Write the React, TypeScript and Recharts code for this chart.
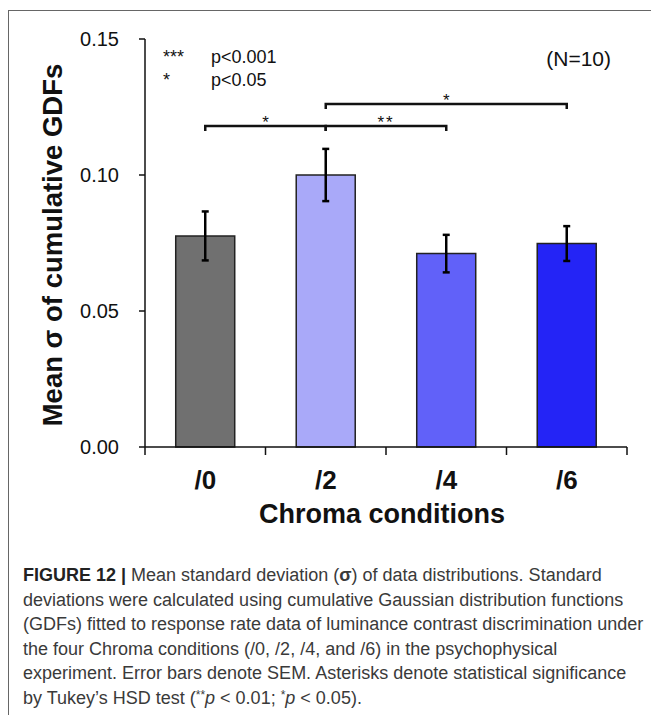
import React from "react";
import { BarChart, Bar, XAxis, YAxis, Cell, ErrorBar, ReferenceLine } from "recharts";

// Chroma conditions and mean sigma of cumulative GDFs (with SEM)
const conditions = ["/0", "/2", "/4", "/6"];
const meanSigma = [0.0776, 0.1, 0.0711, 0.0748];
const semValues = [0.009, 0.0096, 0.0069, 0.0064];
const barColors = ["#707070", "#a9a9f9", "#6161f9", "#2424f6"];
const yTicks = [0, 0.05, 0.1, 0.15];

// Tukey HSD significance brackets
const bracketFrom = ["/0", "/2", "/2"];
const bracketTo = ["/2", "/4", "/6"];
const bracketLevel = [0.118, 0.118, 0.1261];
const bracketMark = ["*", "**", "*"];

const data = conditions.map((name, i) => ({
  name,
  value: meanSigma[i],
  sem: semValues[i],
}));

const INK = "#111";
const FONT = '"Liberation Sans", Arial, sans-serif';

const ChromaTick = (props: any) => {
  const { x, y, payload, index } = props;
  const half = payload.offset || 0;
  const last = index === conditions.length - 1;
  return (
    <g>
      <line x1={x - half} x2={x - half} y1={y} y2={y + 8} stroke={INK} strokeWidth={1.5} />
      {last && <line x1={x + half} x2={x + half} y1={y} y2={y + 8} stroke={INK} strokeWidth={1.5} />}
      <text
        x={x}
        y={y + 42}
        textAnchor="middle"
        fontFamily={FONT}
        fontWeight="bold"
        fontSize={26}
        fill={INK}
      >
        {payload.value}
      </text>
    </g>
  );
};

const bracketShape = (mark: string) => (p: any) => {
  const { x1, y1, x2, y2 } = p;
  return (
    <g>
      <path
        d={`M${x1},${y1 + 5}V${y1}H${x2}V${y2 + 5}`}
        fill="none"
        stroke={INK}
        strokeWidth={2.5}
      />
      <text
        x={(x1 + x2) / 2}
        y={y1 + 2}
        textAnchor="middle"
        fontFamily={FONT}
        fontSize={17}
        letterSpacing={mark.length > 1 ? 2 : 0}
        fill={INK}
      >
        {mark}
      </text>
    </g>
  );
};

const sup = { fontSize: 12, position: "relative" as const, top: -5 };

export default function App() {
  return (
    <div
      style={{
        position: "relative",
        width: 659,
        height: 717,
        margin: "-8px 0 0 -8px",
        background: "#fff",
        overflow: "hidden",
        fontFamily: FONT,
      }}
    >
      <BarChart
        width={659}
        height={545}
        data={data}
        margin={{ top: 39, right: 32, bottom: 0, left: 0 }}
        barCategoryGap="25.5%"
      >
        <XAxis
          dataKey="name"
          height={98}
          axisLine={{ stroke: INK, strokeWidth: 1.5 }}
          tickLine={false}
          tickSize={0}
          tickMargin={0}
          tick={<ChromaTick />}
          interval={0}
          label={{
            value: "Chroma conditions",
            position: "insideBottom",
            offset: 22,
            dx: -4,
            style: { fontFamily: FONT, fontWeight: "bold", fontSize: 27, fill: INK },
          }}
        />
        <XAxis
          xAxisId="top"
          orientation="top"
          dataKey="name"
          height={0}
          tick={false}
          tickLine={false}
          axisLine={{ stroke: INK, strokeWidth: 1.5 }}
        />
        <YAxis
          domain={[0, 0.15]}
          ticks={yTicks}
          tickFormatter={(v: number) => v.toFixed(2)}
          width={145}
          tickSize={6}
          tickMargin={20}
          axisLine={{ stroke: INK, strokeWidth: 1.5 }}
          tickLine={{ stroke: INK, strokeWidth: 1.5 }}
          tick={{ fontFamily: FONT, fontSize: 20, fill: INK }}
          label={{
            value: "Mean σ of cumulative GDFs",
            angle: -90,
            position: "insideLeft",
            offset: 52,
            dy: 2,
            style: { textAnchor: "middle", fontFamily: FONT, fontWeight: "bold", fontSize: 27.5, fill: INK },
          }}
        />
        <YAxis
          yAxisId="right"
          orientation="right"
          width={0}
          domain={[0, 1]}
          tick={false}
          tickLine={false}
          axisLine={{ stroke: INK, strokeWidth: 1.5 }}
        />
        <Bar dataKey="value" stroke="#222" strokeWidth={1.5} isAnimationActive={false}>
          {data.map((_, i) => (
            <Cell key={i} fill={barColors[i]} />
          ))}
          <ErrorBar dataKey="sem" width={3.5} stroke="#000" strokeWidth={2.5} direction="y" />
        </Bar>
        {bracketFrom.map((from, i) => (
          <ReferenceLine
            key={i}
            segment={[
              { x: from, y: bracketLevel[i] },
              { x: bracketTo[i], y: bracketLevel[i] },
            ]}
            shape={bracketShape(bracketMark[i])}
          />
        ))}
      </BarChart>

      <svg
        width={659}
        height={717}
        style={{ position: "absolute", left: 0, top: 0, pointerEvents: "none" }}
      >
        <line x1={8} x2={659} y1={10.5} y2={10.5} stroke="#666" strokeWidth={1} />
        <line x1={8.5} x2={8.5} y1={10} y2={715} stroke="#666" strokeWidth={1} />
        <g fontFamily={FONT} fontSize={18} fill={INK}>
          <text x={163} y={62.5}>***</text>
          <text x={211} y={63}>p&lt;0.001</text>
          <text x={163} y={86}>*</text>
          <text x={211} y={86}>p&lt;0.05</text>
          <text x={611} y={66} fontSize={21} textAnchor="end">(N=10)</text>
        </g>
      </svg>

      <div
        style={{
          position: "absolute",
          left: 23,
          top: 563,
          fontSize: 18,
          lineHeight: "24.6px",
          color: "#3a3a3a",
          whiteSpace: "nowrap",
        }}
      >
        <div>
          <b style={{ color: "#222" }}>FIGURE 12 |</b> Mean standard deviation (<b>σ</b>) of data distributions. Standard
        </div>
        <div>deviations were calculated using cumulative Gaussian distribution functions</div>
        <div>(GDFs) fitted to response rate data of luminance contrast discrimination under</div>
        <div>the four Chroma conditions (/0, /2, /4, and /6) in the psychophysical</div>
        <div>experiment. Error bars denote SEM. Asterisks denote statistical significance</div>
        <div>
          by Tukey’s HSD test (<span style={sup}>**</span>
          <i>p</i> &lt; 0.01; <span style={sup}>*</span>
          <i>p</i> &lt; 0.05).
        </div>
      </div>
    </div>
  );
}
